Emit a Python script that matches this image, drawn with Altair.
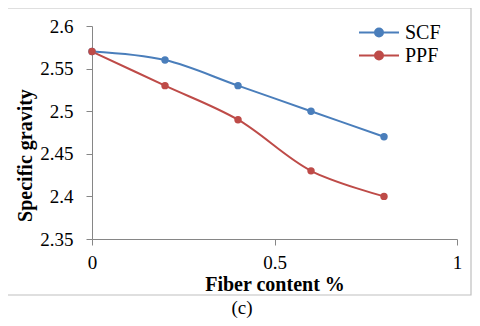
import altair as alt
import pandas as pd

fiber = [0, 0.2, 0.4, 0.6, 0.8]
scf = [2.57, 2.56, 2.53, 2.50, 2.47]
ppf = [2.57, 2.53, 2.49, 2.43, 2.40]
series = ["SCF", "PPF"]
colors = ["#4A7EBB", "#BE4B48"]
y_ticks = [2.35, 2.4, 2.45, 2.5, 2.55, 2.6]
x_ticks = [0, 0.5, 1]

rows = []
for name, vals in zip(series, [scf, ppf]):
    for xv, yv in zip(fiber, vals):
        rows.append({"fiber": xv, "sg": yv, "series": name})
df = pd.DataFrame(rows)

FONT = "Liberation Serif"
AX = "#868686"

xenc = alt.X("fiber:Q", scale=alt.Scale(domain=[0, 1], nice=False),
             axis=alt.Axis(values=x_ticks, format="~g", title="Fiber content %",
                           grid=False, domainColor=AX, tickColor=AX, tickSize=6,
                           labelFont=FONT, labelFontSize=19, labelColor="black",
                           labelPadding=8, titleFont=FONT, titleFontSize=20,
                           titleFontWeight="bold", titleColor="black", titlePadding=2,
                           labelFlush=False))
yenc = alt.Y("sg:Q", scale=alt.Scale(domain=[2.35, 2.6], nice=False, zero=False),
             axis=alt.Axis(values=y_ticks, format="~g", title="Specific gravity",
                           grid=False, domainColor=AX, tickColor=AX, tickSize=6,
                           labelFont=FONT, labelFontSize=19, labelColor="black",
                           labelPadding=13, titleFont=FONT, titleFontSize=20,
                           titleFontWeight="bold", titleColor="black",
                           titleX=-67, titleY=129, titleBaseline="middle",
                           titleAlign="center"))
color = alt.Color("series:N", scale=alt.Scale(domain=series, range=colors),
                  legend=alt.Legend(title=None, orient="none", legendX=266, legendY=-5,
                                    symbolType="M-1,0H1M-0.2,0A0.2,0.2,0,1,0,0.2,0A0.2,0.2,0,1,0,-0.2,0Z",
                                    symbolSize=1600, symbolStrokeWidth=2, clipHeight=23,
                                    rowPadding=0, labelFont=FONT, labelFontSize=20,
                                    labelColor="black", labelOffset=5))

lines = alt.Chart(df).mark_line(interpolate="catmull-rom", strokeWidth=2).encode(
    x=xenc, y=yenc, color=color)
points = alt.Chart(df).mark_point(filled=True, size=55, opacity=1).encode(
    x=xenc, y=yenc, color=color)

frame = alt.Chart(alt.Data(values=[{}])).mark_rect(
    fill=None, stroke="#BFBFBF", strokeWidth=1.2, clip=False).encode(
    x=alt.value(-85), x2=alt.value(379), y=alt.value(-18), y2=alt.value(269))

caption = alt.Chart(alt.Data(values=[{"t": "(c)"}])).mark_text(
    font=FONT, fontSize=19, color="black", baseline="alphabetic", align="center").encode(
    text="t:N", x=alt.value(150), y=alt.value(288))

chart = alt.layer(frame, lines, points, caption).properties(
    width=365, height=213,
    autosize=alt.AutoSizeParams(type="none"),
    padding={"left": 84, "top": 18, "right": 15, "bottom": 79},
).configure_view(stroke=None)

chart.save("out.html", embed_options={"renderer": "svg", "actions": False})
